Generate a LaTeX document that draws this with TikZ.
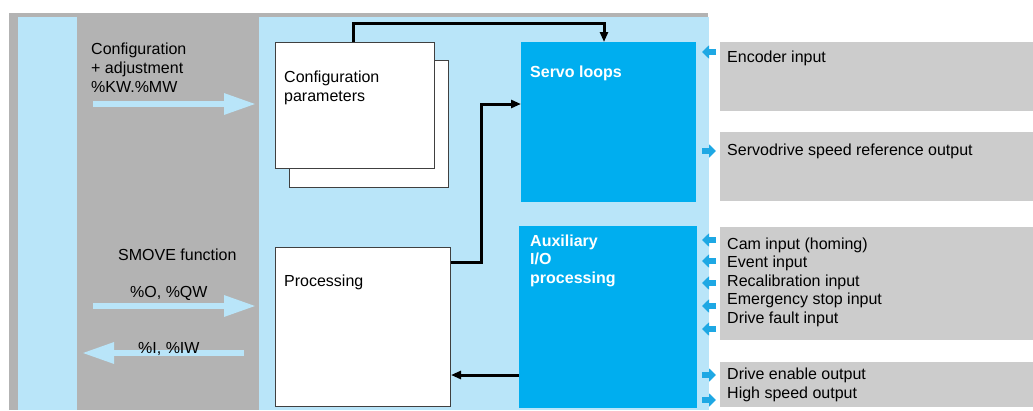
\documentclass[tikz,border=0pt]{standalone}
\usepackage{fontspec}
\setmainfont{Liberation Sans}
\usetikzlibrary{arrows.meta,calc}
\definecolor{bggray}{RGB}{179,179,179}
\definecolor{lblue}{RGB}{185,229,249}
\definecolor{cyanbox}{RGB}{0,174,239}
\definecolor{sarrow}{RGB}{30,168,228}
\definecolor{rgray}{RGB}{204,204,204}
\definecolor{bord}{RGB}{64,64,64}
\tikzset{
 box/.style={draw=bord,line width=1pt,fill=white,inner sep=0pt,anchor=north west},
 bluebox/.style={fill=cyanbox,inner sep=0pt,anchor=north west},
 graybox/.style={fill=rgray,inner sep=0pt,anchor=north west,minimum width=313pt},
 txt/.style={anchor=base west,inner sep=0pt,font=\fontsize{16}{19}\selectfont},
 wtxt/.style={anchor=base west,inner sep=0pt,text=white,font=\fontsize{16}{19}\selectfont\bfseries},
 conn/.style={line width=3pt,-{Triangle[length=10pt,width=8pt]}},
 bigarrow/.style={draw=lblue,line width=6pt,-{Triangle[length=32pt,width=20pt]}},
 smallarrow/.style={draw=sarrow,line width=6pt,-{Triangle[length=7pt,width=13pt]}},
}
\begin{document}
\begin{tikzpicture}[x=1pt,y=-1pt]
\useasboundingbox (0,0) rectangle (1033,410);
% backgrounds
\fill[bggray] (9,13) rectangle (708,410);
\fill[lblue] (18,17) rectangle (77,410);
\fill[lblue] (259,17) rectangle (709,410);
% boxes
\node[box,minimum width=159pt,minimum height=127pt] (cfgback) at (289,60) {};
\node[box,minimum width=159pt,minimum height=126pt] (cfg) at (275,42) {};
\node[box,minimum width=175pt,minimum height=159pt] (proc) at (275,247) {};
\node[bluebox,minimum width=175pt,minimum height=160pt] (servo) at (521,42) {};
\node[bluebox,minimum width=178pt,minimum height=182pt] (aux) at (519,226) {};
\node[graybox,minimum height=69pt] (r1) at (720,42) {};
\node[graybox,minimum height=69pt] (r2) at (720,132) {};
\node[graybox,minimum height=113pt] (r3) at (720,227) {};
\node[graybox,minimum height=45pt] (r4) at (720,362) {};
% connectors
\coordinate (t1) at (353,23);
\coordinate (t2) at (604,23);
\draw[conn] (cfg.north -| t1) -- (t1) -| (servo.north -| t2);
\coordinate (k1) at (481,262);
\coordinate (k2) at (481,104);
\draw[conn] (proc.east |- k1) -- (k1) -- (k2) -- (servo.west |- k2);
\coordinate (k3) at (500,375);
\draw[conn] (aux.west |- k3) -- (proc.east |- k3);
% big light-blue arrows
\coordinate (a1s) at (93,104); \coordinate (a1e) at (256,104);
\coordinate (a2s) at (93,306); \coordinate (a2e) at (256,306);
\coordinate (a3s) at (244,353); \coordinate (a3e) at (82,353);
\draw[bigarrow] (a1s) -- (a1e);
\draw[bigarrow] (a2s) -- (a2e);
\draw[bigarrow] (a3s) -- (a3e);
% small arrows
\foreach \n/\y in {e1/52,e2/240,e3/261,e4/283,e5/306,e6/329}{
  \coordinate (\n a) at (716,\y); \coordinate (\n b) at (702,\y);
  \draw[smallarrow] (\n a) -- (\n b);
}
\foreach \n/\y in {o1/151,o2/375,o3/400}{
  \coordinate (\n a) at (702,\y); \coordinate (\n b) at (716,\y);
  \draw[smallarrow] (\n a) -- (\n b);
}
% texts left
\node[txt] (l1) at (91,54) {Configuration};
\node[txt] (l2) at (91,73) {+ adjustment};
\node[txt] (l3) at (91,92) {\%KW.\%MW};
\node[txt] (smove) at (118,260) {SMOVE function};
\node[txt] (oqw) at (130,297) {\%O, \%QW};
\node[txt] (iiw) at (138,353) {\%I, \%IW};
% box texts
\node[txt] (c1) at (284,82) {Configuration};
\node[txt] (c2) at (284,101) {parameters};
\node[txt] (p1) at (284,286) {Processing};
\node[wtxt] (s1) at (530,77) {Servo loops};
\node[wtxt] (x1) at (530,246) {Auxiliary};
\node[wtxt] (x2) at (530,264.5) {I/O};
\node[wtxt] (x3) at (530,283) {processing};
% right texts
\node[txt] (q1) at (727,62) {Encoder input};
\node[txt] (q2) at (727,155) {Servodrive speed reference output};
\node[txt] (q3) at (727,249) {Cam input (homing)};
\node[txt] (q4) at (727,267.5) {Event input};
\node[txt] (q5) at (727,286) {Recalibration input};
\node[txt] (q6) at (727,304.5) {Emergency stop input};
\node[txt] (q7) at (727,323) {Drive fault input};
\node[txt] (q8) at (727,379) {Drive enable output};
\node[txt] (q9) at (727,398) {High speed output};
\end{tikzpicture}
\end{document}
